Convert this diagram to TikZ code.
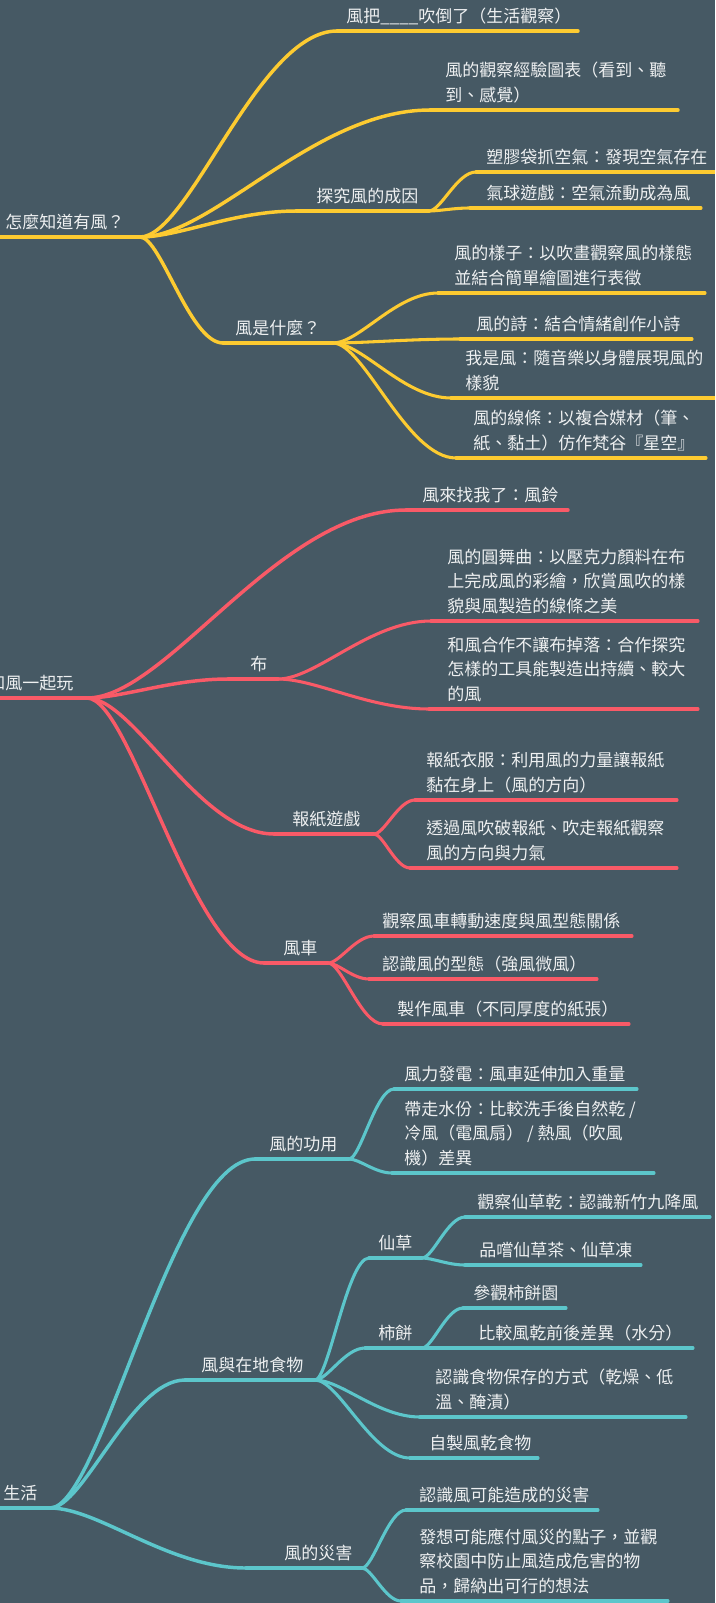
\documentclass[tikz,border=0pt]{standalone}
\usepackage{fontspec}
\newfontfamily\cjk{Noto Sans CJK TC}
\usetikzlibrary{calc}
\definecolor{bgc}{HTML}{465964}
\definecolor{yel}{HTML}{FDCB31}
\definecolor{red1}{HTML}{F95A67}
\definecolor{teal1}{HTML}{5CC6CB}
\definecolor{txt}{HTML}{EEF0F1}
\newcommand\ml[1]{\begin{tabular}[b]{@{}l@{}}#1\end{tabular}}
\newcommand\topic[7]{%
 \coordinate (#1-s) at (#2,#4);
 \coordinate (#1-e) at (#3,#4);
 \draw[#7] (#1-s) -- (#1-e);
 \node[lbl] (#1) at (#5,#4-8.5) {#6};}
\newcommand\conn[3]{\draw[#1] let \p1=(#2), \p2=(#3) in (#2) .. controls ({\x1+0.25*(\x2-\x1)},\y1) and ({\x1+0.6*(\x2-\x1)},\y2) .. (#3);}
\begin{document}
\begin{tikzpicture}[x=0.75pt,y=-0.75pt,
 lbl/.style={anchor=base west,inner sep=0pt,text=txt,font=\cjk\fontsize{12.75}{18.4}\selectfont},
 r/.style={line width=3pt,line cap=round},
 l1/.style={line width=2.6pt,line cap=round},
 l2/.style={line width=2.3pt,line cap=round}]
\useasboundingbox (0,0) rectangle (715,1603);
\fill[bgc] (0,0) rectangle (715,1603);
\clip (0,0) rectangle (715,1603);
% ---------------- yellow
\topic{Y}{-5}{140}{237}{5}{怎麼知道有風？}{r,yel}
\topic{A}{337}{578}{31}{346}{風把\_\_\_\_吹倒了（生活觀察）}{l1,yel}
\topic{B}{430}{678}{110}{445}{\ml{風的觀察經驗圖表（看到、聽\\到、感覺）}}{l1,yel}
\topic{C}{296}{429}{211}{316}{探究風的成因}{l1,yel}
\topic{C1}{476}{725}{172}{486}{塑膠袋抓空氣：發現空氣存在}{l2,yel}
\topic{C2}{470}{701}{208}{486}{氣球遊戲：空氣流動成為風}{l2,yel}
\topic{D}{223}{333}{343}{235}{風是什麼？}{l1,yel}
\topic{D1}{438}{705}{293}{454}{\ml{風的樣子：以吹畫觀察風的樣態\\並結合簡單繪圖進行表徵}}{l2,yel}
\topic{D2}{460}{692}{339}{476}{風的詩：結合情緒創作小詩}{l2,yel}
\topic{D3}{451}{725}{398}{465}{\ml{我是風：隨音樂以身體展現風的\\樣貌}}{l2,yel}
\topic{D4}{456}{706}{458}{473}{\ml{風的線條：以複合媒材（筆、\\紙、黏土）仿作梵谷『星空』}}{l2,yel}
\conn{l1,yel}{Y-e}{A-s}
\conn{l1,yel}{Y-e}{B-s}
\conn{l1,yel}{Y-e}{C-s}
\conn{l1,yel}{Y-e}{D-s}
\conn{l2,yel}{C-e}{C1-s}
\conn{l2,yel}{C-e}{C2-s}
\conn{l2,yel}{D-e}{D1-s}
\conn{l2,yel}{D-e}{D2-s}
\conn{l2,yel}{D-e}{D3-s}
\conn{l2,yel}{D-e}{D4-s}
% ---------------- red
\topic{R}{-5}{87}{698}{-12}{和風一起玩}{r,red1}
\topic{E}{406}{568}{510}{422}{風來找我了：風鈴}{l1,red1}
\topic{F}{228}{278}{679}{250}{布}{l1,red1}
\topic{F1}{431}{698}{621}{447}{\ml{風的圓舞曲：以壓克力顏料在布\\上完成風的彩繪，欣賞風吹的樣\\貌與風製造的線條之美}}{l2,red1}
\topic{F2}{429}{698}{709}{447}{\ml{和風合作不讓布掉落：合作探究\\怎樣的工具能製造出持續、較大\\的風}}{l2,red1}
\topic{G}{274}{374}{834}{292}{報紙遊戲}{l1,red1}
\topic{G1}{415}{677}{800}{426}{\ml{報紙衣服：利用風的力量讓報紙\\黏在身上（風的方向）}}{l2,red1}
\topic{G2}{410}{677}{868}{426}{\ml{透過風吹破報紙、吹走報紙觀察\\風的方向與力氣}}{l2,red1}
\topic{H}{264}{328}{963}{283}{風車}{l1,red1}
\topic{H1}{374}{632}{936}{382}{觀察風車轉動速度與風型態關係}{l2,red1}
\topic{H2}{369}{597}{979}{382}{認識風的型態（強風微風）}{l2,red1}
\topic{H3}{383}{629}{1024}{397}{製作風車（不同厚度的紙張）}{l2,red1}
\conn{l1,red1}{R-e}{E-s}
\conn{l1,red1}{R-e}{F-s}
\conn{l1,red1}{R-e}{G-s}
\conn{l1,red1}{R-e}{H-s}
\conn{l2,red1}{F-e}{F1-s}
\conn{l2,red1}{F-e}{F2-s}
\conn{l2,red1}{G-e}{G1-s}
\conn{l2,red1}{G-e}{G2-s}
\conn{l2,red1}{H-e}{H1-s}
\conn{l2,red1}{H-e}{H2-s}
\conn{l2,red1}{H-e}{H3-s}
% ---------------- teal
\topic{T}{-5}{50}{1508}{3}{生活}{r,teal1}
\topic{I}{255}{349}{1159}{269}{風的功用}{l1,teal1}
\topic{I1}{394}{637}{1089}{404}{風力發電：風車延伸加入重量}{l2,teal1}
\topic{I2}{392}{654}{1173}{404}{\ml{帶走水份：比較洗手後自然乾 /\\冷風（電風扇） / 熱風（吹風\\機）差異}}{l2,teal1}
\topic{J}{185}{315}{1380}{201}{風與在地食物}{l1,teal1}
\topic{J1}{369}{422}{1258}{378}{仙草}{l2,teal1}
\topic{J1a}{465}{710}{1217}{477}{觀察仙草乾：認識新竹九降風}{l2,teal1}
\topic{J1b}{465}{641}{1265}{479}{品嚐仙草茶、仙草凍}{l2,teal1}
\topic{J2}{365}{422}{1348}{378}{柿餅}{l2,teal1}
\topic{J2a}{463}{566}{1308}{473}{參觀柿餅園}{l2,teal1}
\topic{J2b}{440}{693}{1348}{478}{比較風乾前後差異（水分）}{l2,teal1}
\topic{J3}{420}{686}{1417}{435}{\ml{認識食物保存的方式（乾燥、低\\溫、醃漬）}}{l2,teal1}
\topic{J4}{410}{538}{1458}{429}{自製風乾食物}{l2,teal1}
\topic{K}{246}{362}{1568}{284}{風的災害}{l1,teal1}
\topic{K1}{406}{598}{1510}{419}{認識風可能造成的災害}{l2,teal1}
\topic{K2}{401}{668}{1601}{419}{\ml{發想可能應付風災的點子，並觀\\察校園中防止風造成危害的物\\品，歸納出可行的想法}}{l2,teal1}
\conn{l1,teal1}{T-e}{I-s}
\conn{l1,teal1}{T-e}{J-s}
\conn{l1,teal1}{T-e}{K-s}
\conn{l2,teal1}{I-e}{I1-s}
\conn{l2,teal1}{I-e}{I2-s}
\conn{l2,teal1}{J-e}{J1-s}
\conn{l2,teal1}{J-e}{J2-s}
\conn{l2,teal1}{J-e}{J3-s}
\conn{l2,teal1}{J-e}{J4-s}
\conn{l2,teal1}{J1-e}{J1a-s}
\conn{l2,teal1}{J1-e}{J1b-s}
\conn{l2,teal1}{J2-e}{J2a-s}
\conn{l2,teal1}{J2-e}{J2b-s}
\conn{l2,teal1}{K-e}{K1-s}
\conn{l2,teal1}{K-e}{K2-s}
\end{tikzpicture}
\end{document}
